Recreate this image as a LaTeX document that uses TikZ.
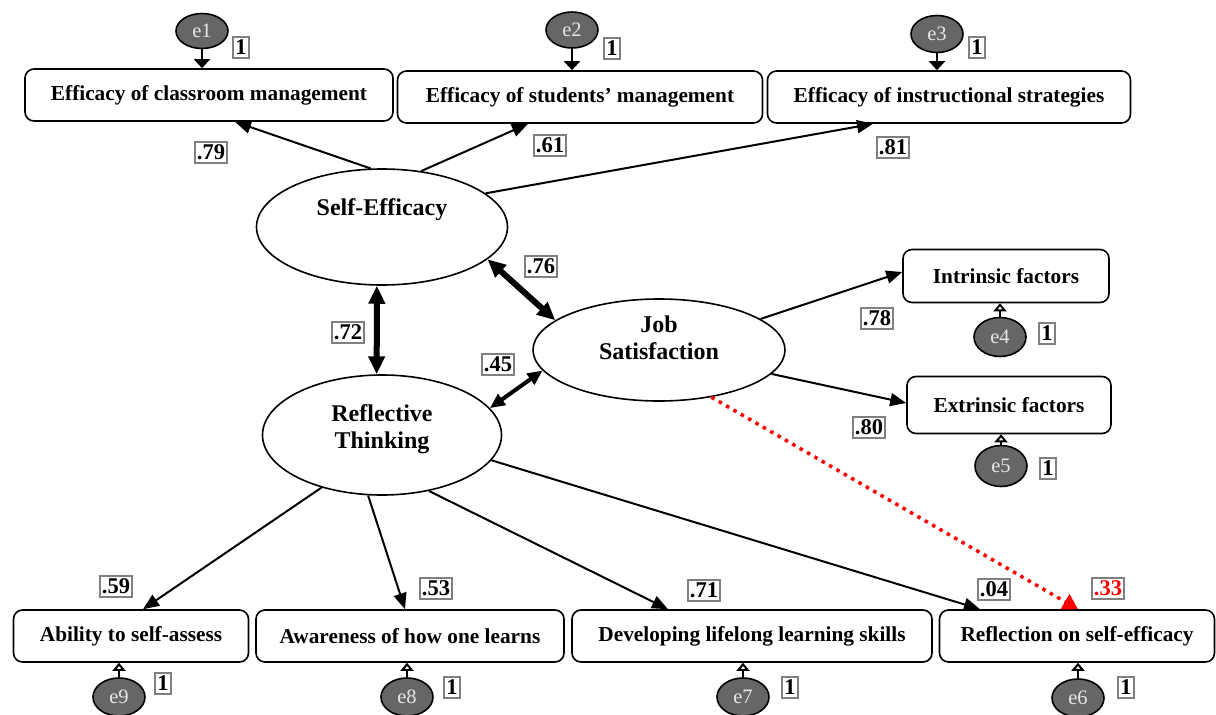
\documentclass[tikz,border=0pt]{standalone}
\usepackage{fontspec}
\setmainfont{Liberation Serif}
\usetikzlibrary{shapes.geometric,arrows.meta,calc}
\definecolor{errgray}{HTML}{666666}
\definecolor{errtext}{HTML}{E6E6E6}
\definecolor{coefgray}{HTML}{808080}
\begin{document}
\begin{tikzpicture}[x=1pt,y=-1pt,
  ind/.style={draw,rounded corners=9pt,line width=1.6pt,inner sep=0pt,minimum height=52pt,font=\fontsize{21.3}{24}\selectfont\bfseries},
  lat/.style={draw,ellipse,line width=1.6pt,inner sep=0pt},
  lattext/.style={align=center,inner sep=0pt,font=\fontsize{24}{27}\selectfont\bfseries},
  err/.style={draw,ellipse,line width=1.6pt,fill=errgray,text=errtext,inner sep=0pt,minimum width=52pt,minimum height=38pt,font=\fontsize{20.5}{22}\selectfont},
  coef/.style={draw=coefgray,line width=2pt,fill=white,inner xsep=2.2pt,inner ysep=2.5pt,text height=15.5pt,text depth=0.5pt,font=\fontsize{22.5}{24}\selectfont\bfseries},
  load/.style={line width=2pt,-{Triangle[length=16pt,width=13pt]}},
  errdown/.style={line width=2pt,-{Triangle[length=9pt,width=16pt]}},
  errup/.style={line width=2pt,-{Triangle[open,length=8pt,width=13pt,fill=white]}},
  corr/.style={line width=6pt,{Triangle[length=18pt,width=16pt]}-{Triangle[length=18pt,width=16pt]}},
  corrthin/.style={line width=4pt,{Triangle[length=15pt,width=13pt]}-{Triangle[length=15pt,width=13pt]}},
  reddot/.style={red,line width=3.5pt,dash pattern=on 3.5pt off 5pt,-{Triangle[length=15pt,width=17pt]}}
]
\useasboundingbox (0,0) rectangle (1216,715);

% top indicators
\node[ind,minimum width=368pt] (b1) at (209,95) {Efficacy of classroom management};
\node[ind,minimum width=365pt] (b2) at (580,97) {Efficacy of students’ management};
\node[ind,minimum width=363pt] (b3) at (949,97) {Efficacy of instructional strategies};

\node[err,minimum height=35pt] (e1) at (202,31) {e1};
\node[err,minimum height=36pt] (e2) at (572,30) {e2};
\node[err,minimum height=37pt] (e3) at (937,34) {e3};
\node[coef] (o1) at (241,47) {1};
\node[coef] (o2) at (612,48) {1};
\node[coef] (o3) at (977,47) {1};
\draw[errdown] (e1.south) -- (e1.south |- b1.north);
\draw[errdown] (e2.south) -- (e2.south |- b2.north);
\draw[errdown] (e3.south) -- (e3.south |- b3.north);

% latent variables
\node[lat,minimum width=251pt,minimum height=116pt] (se) at (382,227) {};
\node[lattext] (seT) at (382,210) {Self-Efficacy};
\node[lat,minimum width=252pt,minimum height=102pt] (js) at (659,350) {};
\node[lattext] (jsT) at (659,338) {Job\\Satisfaction};
\node[lat,minimum width=239pt,minimum height=120pt] (rt) at (382,435) {};
\node[lattext] (rtT) at (382,429) {Reflective\\Thinking};

% right indicators
\node[ind,minimum width=206pt,minimum height=53pt] (bi) at (1006,276) {Intrinsic factors};
\node[ind,minimum width=204pt,minimum height=57pt] (bx) at (1009,405) {Extrinsic factors};
\node[err,minimum height=39pt] (e4) at (1000,337) {e4};
\node[err,minimum height=41pt] (e5) at (1001,466) {e5};
\node[coef] (o4) at (1047,333) {1};
\node[coef] (o5) at (1048,468) {1};
\draw[errup] (e4.north) -- (e4.north |- bi.south);
\draw[errup] (e5.north) -- (e5.north |- bx.south);

% bottom indicators
\node[ind,minimum width=235pt] (ba) at (131,636) {Ability to self-assess};
\node[ind,minimum width=308pt] (bw) at (410,636) {Awareness of how one learns};
\node[ind,minimum width=360pt] (bd) at (752,636) {Developing lifelong learning skills};
\node[ind,minimum width=275pt] (br) at (1077,636) {Reflection on self-efficacy};
\node[err] (e9) at (119,697) {e9};
\node[err] (e8) at (407,697) {e8};
\node[err] (e7) at (743,697) {e7};
\node[err] (e6) at (1078,698) {e6};
\node[coef] (o9) at (163,683) {1};
\node[coef] (o8) at (452,687) {1};
\node[coef] (o7) at (790,687) {1};
\node[coef] (o6) at (1126,687) {1};
\draw[errup] (e9.north) -- (e9.north |- ba.south);
\draw[errup] (e8.north) -- (e8.north |- bw.south);
\draw[errup] (e7.north) -- (e7.north |- bd.south);
\draw[errup] (e6.north) -- (e6.north |- br.south);

% loadings
\draw[load] (se.101) -- ($(b1.south)+(26,0)$);
\draw[load] (se.55) -- ($(b2.south)+(-52,0)$);
\draw[load] (se.18) -- ($(b3.south)+(-76,0)$);
\draw[load] (js.17) -- ($(bi.west)+(0,-4)$);
\draw[load] (js.-12) -- ($(bx.west)+(0,-2)$);
\draw[load] (rt.221) -- ($(ba.north)+(12,0)$);
\draw[load] (rt.257) -- ($(bw.north)+(-5,0)$);
\draw[load] (rt.310) -- ($(bd.north)+(-84,0)$);
\draw[load] (rt.-13) -- ($(br.north)+(-97,0)$);
\draw[reddot] (js.-42) -- ($(br.north)+(1,0)$);

% correlations
\draw[corr] (se.265) -- (rt.95);
\draw[corr] (se.-17) -- (js.164);
\draw[corrthin] (rt.14) -- (js.190);

% coefficients
\node[coef] (c79) at (211,152) {.79};
\node[coef] (c61) at (550,145) {.61};
\node[coef] (c81) at (893,147) {.81};
\node[coef] (c78) at (877,318) {.78};
\node[coef] (c80) at (869,427) {.80};
\node[coef] (c72) at (348,332) {.72};
\node[coef] (c76) at (541,266) {.76};
\node[coef] (c45) at (498,364) {.45};
\node[coef] (c59) at (116,586) {.59};
\node[coef] (c53) at (436,588) {.53};
\node[coef] (c71) at (704,590) {.71};
\node[coef] (c04) at (994,589) {.04};
\node[coef,text=red] (c33) at (1108,588) {.33};
\end{tikzpicture}
\end{document}
